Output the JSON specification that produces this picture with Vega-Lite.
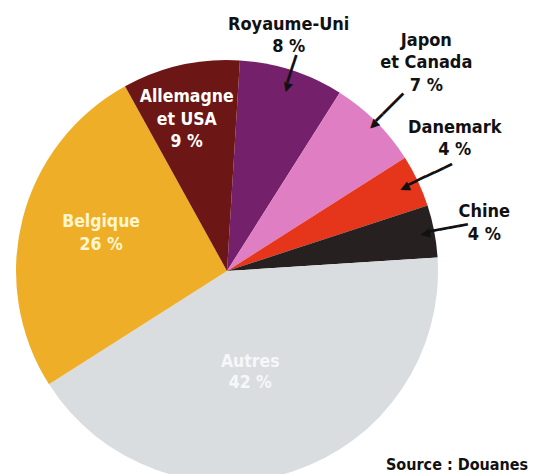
{
  "$schema": "https://vega.github.io/schema/vega-lite/v6.json",
  "width": 454,
  "height": 400,
  "autosize": {"type": "none"},
  "padding": {"left": 0, "top": 71, "right": 83, "bottom": 3},
  "background": "white",
  "config": {
    "view": {"stroke": null},
    "text": {"font": "DejaVu Sans Condensed, Liberation Sans, sans-serif", "fontWeight": "bold"},
    "title": {"font": "DejaVu Sans Condensed, Liberation Sans, sans-serif", "fontWeight": "bold"}
  },
  "title": {"text": "Source : Douanes", "orient": "bottom", "anchor": "start", "frame": "group", "dx": 386, "offset": -57, "baseline": "alphabetic", "fontSize": 16, "color": "#111"},
  "data": {
    "values": [
      {"name": "Royaume-Uni", "label": "Royaume-Uni\n8 %", "value": 8, "ord": 1},
      {"name": "Japon et Canada", "label": "Japon\net Canada\n7 %", "value": 7, "ord": 2},
      {"name": "Danemark", "label": "Danemark\n4 %", "value": 4, "ord": 3},
      {"name": "Chine", "label": "Chine\n4 %", "value": 4, "ord": 4},
      {"name": "Autres", "label": "Autres\n42 %", "value": 42, "ord": 5},
      {"name": "Belgique", "label": "Belgique\n26 %", "value": 26, "ord": 6},
      {"name": "Allemagne et USA", "label": "Allemagne\net USA\n9 %", "value": 9, "ord": 7}
    ]
  },
  "encoding": {
    "theta": {"field": "value", "type": "quantitative", "stack": true, "scale": {"range": [0.0611, 6.3443]}},
    "order": {"field": "ord", "type": "quantitative"},
    "detail": {"field": "name", "type": "nominal"}
  },
  "layer": [
    {
      "mark": {"type": "arc", "radius": 211},
      "encoding": {
        "color": {
          "field": "name", "type": "nominal", "legend": null,
          "scale": {
            "domain": ["Royaume-Uni", "Japon et Canada", "Danemark", "Chine", "Autres", "Belgique", "Allemagne et USA"],
            "range": ["#74206a", "#e07ec4", "#e5361c", "#262020", "#d9dde0", "#eeae28", "#6c1616"]
          }
        }
      }
    },
    {
      "mark": {"type": "text", "text": "◀━━━", "radius": 207.5, "angle": -72.1, "font": "DejaVu Sans Mono", "fontWeight": "normal", "fontSize": 16, "fill": "#111", "align": "center", "baseline": "middle"},
      "encoding": {"opacity": {"condition": {"test": "datum.name === 'Royaume-Uni'", "value": 1}, "value": 0}}
    },
    {
      "mark": {"type": "text", "text": "◀━━━━", "radius": 226, "angle": -45.1, "font": "DejaVu Sans Mono", "fontWeight": "normal", "fontSize": 16, "fill": "#111", "align": "center", "baseline": "middle"},
      "encoding": {"opacity": {"condition": {"test": "datum.name === 'Japon et Canada'", "value": 1}, "value": 0}}
    },
    {
      "mark": {"type": "text", "text": "◀━━━━━", "radius": 220, "angle": -25.3, "font": "DejaVu Sans Mono", "fontWeight": "normal", "fontSize": 16, "fill": "#111", "align": "center", "baseline": "middle"},
      "encoding": {"opacity": {"condition": {"test": "datum.name === 'Danemark'", "value": 1}, "value": 0}}
    },
    {
      "mark": {"type": "text", "text": "◀━━━━", "radius": 221, "angle": -10.9, "font": "DejaVu Sans Mono", "fontWeight": "normal", "fontSize": 16, "fill": "#111", "align": "center", "baseline": "middle"},
      "encoding": {"opacity": {"condition": {"test": "datum.name === 'Chine'", "value": 1}, "value": 0}}
    },
    {
      "mark": {"type": "text", "radius": 243, "dx": -13, "dy": -15, "fill": "#111", "fontSize": 18, "lineHeight": 22, "lineBreak": "\n", "align": "center", "baseline": "middle"},
      "encoding": {"text": {"condition": {"test": "datum.name === 'Royaume-Uni'", "field": "label"}, "value": ""}}
    },
    {
      "mark": {"type": "text", "radius": 288, "dx": -4, "dy": -26.5, "fill": "#111", "fontSize": 18, "lineHeight": 22.5, "lineBreak": "\n", "align": "center", "baseline": "middle"},
      "encoding": {"text": {"condition": {"test": "datum.name === 'Japon et Canada'", "field": "label"}, "value": ""}}
    },
    {
      "mark": {"type": "text", "radius": 263, "dx": -10, "dy": -31, "fill": "#111", "fontSize": 18, "lineHeight": 22, "lineBreak": "\n", "align": "center", "baseline": "middle"},
      "encoding": {"text": {"condition": {"test": "datum.name === 'Danemark'", "field": "label"}, "value": ""}}
    },
    {
      "mark": {"type": "text", "radius": 261, "dx": 1, "dy": -10, "fill": "#111", "fontSize": 18, "lineHeight": 23, "lineBreak": "\n", "align": "center", "baseline": "middle"},
      "encoding": {"text": {"condition": {"test": "datum.name === 'Chine'", "field": "label"}, "value": ""}}
    },
    {
      "mark": {"type": "text", "radius": 156, "dx": -6, "dy": -21.5, "fill": "#ffffff", "fontSize": 17.5, "lineHeight": 22.5, "lineBreak": "\n", "align": "center", "baseline": "middle"},
      "encoding": {"text": {"condition": {"test": "datum.name === 'Allemagne et USA'", "field": "label"}, "value": ""}}
    },
    {
      "mark": {"type": "text", "radius": 132, "dx": 2, "dy": -16.5, "fill": "#fff6d0", "fontSize": 17.5, "lineHeight": 23, "lineBreak": "\n", "align": "center", "baseline": "middle"},
      "encoding": {"text": {"condition": {"test": "datum.name === 'Belgique'", "field": "label"}, "value": ""}}
    },
    {
      "mark": {"type": "text", "radius": 104, "dx": -9, "dy": -8, "fill": "#ffffff", "fillOpacity": 0.8, "fontSize": 17.5, "lineHeight": 21, "lineBreak": "\n", "align": "center", "baseline": "middle"},
      "encoding": {"text": {"condition": {"test": "datum.name === 'Autres'", "field": "label"}, "value": ""}}
    }
  ]
}
